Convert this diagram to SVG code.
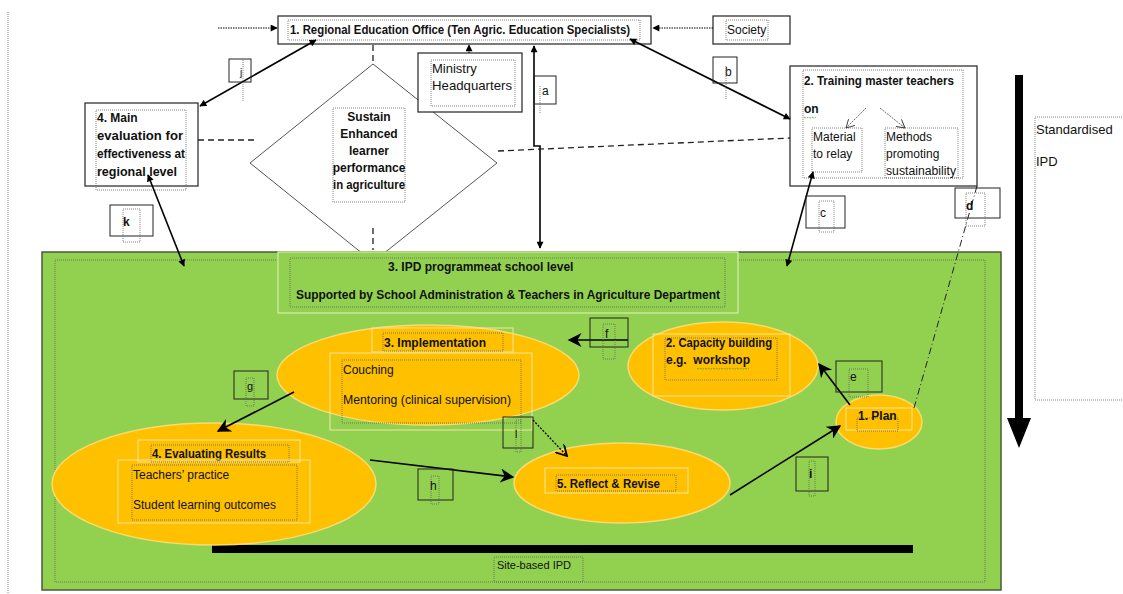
<svg xmlns="http://www.w3.org/2000/svg" width="1123" height="594" viewBox="0 0 1123 594">
<defs>
<marker id="ah" viewBox="0 0 10 10" refX="9" refY="5" markerWidth="10" markerHeight="9" markerUnits="userSpaceOnUse" orient="auto-start-reverse"><path d="M0,0 L10,5 L0,10 z" fill="#000"/></marker>
<marker id="ahs" viewBox="0 0 10 10" refX="9" refY="5" markerWidth="8" markerHeight="7" markerUnits="userSpaceOnUse" orient="auto-start-reverse"><path d="M0,0 L10,5 L0,10 z" fill="#000"/></marker>
<marker id="ahb" viewBox="0 0 10 10" refX="9" refY="5" markerWidth="16" markerHeight="14" markerUnits="userSpaceOnUse" orient="auto-start-reverse"><path d="M0,0 L10,5 L0,10 L3,5 z" fill="#000"/></marker>
<marker id="open" viewBox="0 0 10 10" refX="9" refY="5" markerWidth="9" markerHeight="9" markerUnits="userSpaceOnUse" orient="auto"><path d="M0,0 L9,5 L0,10" fill="none" stroke="#333" stroke-width="1"/></marker>
<marker id="opend" viewBox="0 0 10 10" refX="9" refY="5" markerWidth="12" markerHeight="12" markerUnits="userSpaceOnUse" orient="auto"><path d="M0,0 L9,5 L0,10" fill="none" stroke="#000" stroke-width="1.5"/></marker>
</defs>
<style>
text{font-family:"Liberation Sans",Arial,sans-serif;font-size:12px;fill:#111;white-space:pre}
.b{font-weight:bold}
.box{fill:#fff;stroke:#333;stroke-width:1.3}
.dot{fill:none;stroke:#666;stroke-width:0.8;stroke-dasharray:1 1}
.lbl{fill:none;stroke:#222;stroke-width:1}
.lt{fill:none;stroke:#f3e6a0;stroke-width:1}
.ell{fill:#ffc000;stroke:#f7dc70;stroke-width:1.5}
.con{fill:none;stroke:#000;stroke-width:1.6}
.dash{fill:none;stroke:#222;stroke-width:1.3;stroke-dasharray:6 4}
.sq{fill:none;stroke:#3a9a3a;stroke-width:0.8;stroke-dasharray:2 1}
</style>
<rect width="1123" height="594" fill="#fff"/>
<line x1="8" y1="12" x2="8" y2="594" class="dot"/>

<g id="sustain">
<polygon points="373,64 497,163 373,262 250,163" fill="#fff" stroke="#555" stroke-width="1"/>
<rect x="333" y="108" width="72" height="94" class="dot"/>
<text class="b" text-anchor="middle" x="369" y="121">Sustain</text>
<text class="b" text-anchor="middle" x="369" y="138">Enhanced</text>
<text class="b" text-anchor="middle" x="369" y="155">learner</text>
<text class="b" text-anchor="middle" x="369" y="172">performance</text>
<text class="b" text-anchor="middle" x="369" y="189" textLength="72" lengthAdjust="spacingAndGlyphs">in agriculture</text>
</g>

<g id="school">
<rect x="42" y="252" width="959" height="338" fill="#92d050" stroke="#4a5a3a" stroke-width="1.5"/>
<rect x="55" y="260" width="930" height="322" class="dot"/>
<rect x="278" y="252" width="460" height="61" fill="#92d050" stroke="#d6efb2" stroke-width="1.2"/>
<rect x="290" y="258" width="435" height="49" class="dot"/>
<text class="b" x="388" y="271">3. IPD programmeat school level</text>
<text class="b" x="296" y="299" textLength="424" lengthAdjust="spacingAndGlyphs">Supported by School Administration &amp; Teachers in Agriculture Department</text>
<rect x="212" y="545" width="701" height="8" fill="#000"/>
<rect x="494" y="557" width="89" height="25" class="dot"/>
<text x="497" y="569" font-size="11px" style="font-size:11px">Site-based IPD</text>
</g>

<g id="regional">
<rect x="278" y="16" width="373" height="28" class="box"/>
<rect x="288" y="20" width="352" height="20" class="dot"/>
<text class="b" x="290" y="34" textLength="340" lengthAdjust="spacingAndGlyphs">1. Regional Education Office (Ten Agric. Education Specialists)</text>
</g>

<g id="society">
<rect x="713" y="16" width="77" height="28" class="box"/>
<rect x="726" y="20" width="42" height="20" class="dot"/>
<text x="727" y="34">Society</text>
</g>

<g id="ministry">
<rect x="418" y="53" width="104" height="59" class="box"/>
<rect x="431" y="60" width="84" height="46" class="dot"/>
<text x="432" y="73" style="font-size:13px">Ministry</text>
<text x="432" y="90" style="font-size:13px" textLength="80" lengthAdjust="spacingAndGlyphs">Headquarters</text>
</g>

<g id="main-eval">
<rect x="85" y="103" width="113" height="83" class="box"/>
<rect x="96" y="110" width="90" height="80" class="dot"/>
<text class="b" x="97" y="122">4. Main</text>
<text class="b" x="97" y="140" textLength="86" lengthAdjust="spacingAndGlyphs">evaluation for</text>
<text class="b" x="97" y="158" textLength="88" lengthAdjust="spacingAndGlyphs">effectiveness at</text>
<text class="b" x="97" y="176" textLength="80" lengthAdjust="spacingAndGlyphs">regional level</text>
</g>

<g id="training">
<rect x="790" y="66" width="187" height="120" class="box"/>
<rect x="803" y="70" width="160" height="108" class="dot"/>
<text class="b" x="804" y="85" textLength="150" lengthAdjust="spacingAndGlyphs">2. Training master teachers</text>
<text class="b" x="804" y="113">on</text>
<path d="M804,117 q2,2 4,0 q2,2 4,0 q2,2 4,0" class="sq"/>
<rect x="812" y="128" width="50" height="44" class="dot"/>
<text x="813" y="141">Material</text>
<text x="813" y="158">to relay</text>
<rect x="885" y="128" width="73" height="50" class="dot"/>
<text x="886" y="141">Methods</text>
<text x="886" y="158">promoting</text>
<text x="886" y="175" textLength="70" lengthAdjust="spacingAndGlyphs">sustainability</text>
<line x1="866" y1="108" x2="846" y2="128" stroke="#444" stroke-width="0.8" stroke-dasharray="2 1" marker-end="url(#open)"/>
<line x1="880" y1="108" x2="905" y2="128" stroke="#444" stroke-width="0.8" stroke-dasharray="2 1" marker-end="url(#open)"/>
</g>

<g id="standardised">
<rect x="1035" y="117" width="95" height="283" class="dot"/>
<text x="1036" y="134" style="font-size:13px">Standardised</text>
<text x="1036" y="166" style="font-size:13px">IPD</text>
<line x1="1019" y1="75" x2="1019" y2="420" stroke="#000" stroke-width="8"/>
<polygon points="1007,418 1031,418 1019,448" fill="#000"/>
</g>

<g id="implementation">
<ellipse cx="428" cy="375" rx="151" ry="50" class="ell"/>
<rect x="372" y="328" width="141" height="24" class="lt"/>
<rect x="383" y="333" width="120" height="18" class="dot"/>
<text class="b" x="384" y="347">3. Implementation</text>
<rect x="330" y="353" width="202" height="77" class="lt"/>
<rect x="342" y="360" width="179" height="63" class="dot"/>
<text x="343" y="374">Couching</text>
<text x="343" y="404" textLength="168" lengthAdjust="spacingAndGlyphs">Mentoring (clinical supervision)</text>
</g>

<g id="capacity">
<ellipse cx="723" cy="366" rx="95" ry="44" class="ell"/>
<rect x="653" y="334" width="137" height="62" class="lt"/>
<rect x="665" y="338" width="112" height="42" class="dot"/>
<text class="b" x="666" y="347" textLength="106" lengthAdjust="spacingAndGlyphs">2. Capacity building</text>
<text class="b" x="666" y="364">e.g.  workshop</text>
<path d="M697,368 q2,2 4,0 q2,2 4,0 q2,2 4,0 q2,2 4,0 q2,2 4,0 q2,2 4,0 q2,2 4,0 q2,2 4,0 q2,2 4,0 q2,2 4,0 q2,2 4,0 q2,2 4,0 q2,2 4,0" class="sq"/>
</g>

<g id="plan">
<ellipse cx="879" cy="422" rx="43" ry="27" class="ell"/>
<rect x="846" y="408" width="66" height="22" class="lt"/>
<rect x="857" y="418" width="41" height="13" class="dot"/>
<text class="b" x="858" y="420">1. Plan</text>
</g>

<g id="evaluating">
<ellipse cx="214" cy="484" rx="162" ry="61" class="ell"/>
<rect x="138" y="440" width="162" height="22" class="lt"/>
<rect x="151" y="445" width="138" height="17" class="dot"/>
<text class="b" x="152" y="458" textLength="114" lengthAdjust="spacingAndGlyphs">4. Evaluating Results</text>
<rect x="118" y="460" width="192" height="63" class="lt"/>
<rect x="132" y="465" width="165" height="55" class="dot"/>
<text x="133" y="479">Teachers’ practice</text>
<text x="133" y="509" textLength="143" lengthAdjust="spacingAndGlyphs">Student learning outcomes</text>
</g>

<g id="reflect">
<ellipse cx="622" cy="483" rx="108" ry="40" class="ell"/>
<rect x="545" y="468" width="143" height="25" class="lt"/>
<rect x="556" y="475" width="120" height="16" class="dot"/>
<text class="b" x="557" y="488" textLength="103" lengthAdjust="spacingAndGlyphs">5. Reflect &amp; Revise</text>
</g>

<g id="connectors">
<line x1="218" y1="28" x2="277" y2="28" stroke="#000" stroke-width="1" stroke-dasharray="1.5 1" marker-end="url(#ahs)"/>
<line x1="713" y1="28" x2="653" y2="28" stroke="#000" stroke-width="1" stroke-dasharray="1.5 1" marker-end="url(#ahs)"/>
<line x1="469" y1="53" x2="469" y2="45" stroke="#000" stroke-width="1" stroke-dasharray="1.5 1" marker-end="url(#ahs)"/>
<path d="M534,46 L534,146 L540,146 L540,248" class="con" stroke-width="1.3" marker-start="url(#ahs)" marker-end="url(#ahs)"/>
<line x1="373" y1="45" x2="373" y2="64" class="dash" stroke-dasharray="5 3"/>
<line x1="373" y1="228" x2="373" y2="250" class="dash" stroke-dasharray="5 3"/>
<line x1="198" y1="140" x2="254" y2="140" class="dash"/>
<line x1="498" y1="151" x2="790" y2="138" class="dash"/>
<line x1="316" y1="40" x2="200" y2="106" class="con" marker-start="url(#ahs)" marker-end="url(#ahs)"/>
<line x1="630" y1="39" x2="790" y2="119" class="con" marker-start="url(#ahs)" marker-end="url(#ahs)"/>
<line x1="148" y1="175" x2="184" y2="266" class="con" marker-start="url(#ahs)" marker-end="url(#ahs)"/>
<line x1="813" y1="172" x2="787" y2="266" class="con" marker-start="url(#ahs)" marker-end="url(#ahs)"/>
<line x1="977" y1="186" x2="914" y2="408" stroke="#222" stroke-width="1" stroke-dasharray="7 3 1 3"/>
<line x1="628" y1="340" x2="569" y2="340" class="con" marker-end="url(#ahb)"/>
<line x1="850" y1="405" x2="819" y2="364" class="con" marker-end="url(#ahb)"/>
<line x1="294" y1="392" x2="218" y2="431" class="con" marker-end="url(#ahb)"/>
<line x1="370" y1="460" x2="513" y2="477" class="con" marker-end="url(#ahb)"/>
<line x1="533" y1="420" x2="567" y2="456" stroke="#000" stroke-width="1.3" stroke-dasharray="2 1.5" marker-end="url(#opend)"/>
<line x1="730" y1="495" x2="840" y2="426" class="con" marker-end="url(#ahb)"/>
</g>

<g id="labels">
<rect x="229" y="59" width="22" height="23" class="lbl"/>
<line x1="243" y1="60" x2="243" y2="102" class="dot"/>
<text x="240" y="76" font-size="10px" style="font-size:10px" fill="#555">j</text>
<rect x="534" y="76" width="22" height="28" class="lbl"/>
<text x="542" y="95">a</text>
<line x1="540" y1="86" x2="540" y2="113" class="dot"/>
<rect x="713" y="57" width="24" height="26" class="lbl"/>
<text x="725" y="76">b</text>
<line x1="726" y1="66" x2="726" y2="100" class="dot"/>
<rect x="110" y="205" width="43" height="31" class="lbl"/>
<rect x="123" y="209" width="17" height="33" class="dot"/>
<text x="123" y="226" class="b">k</text>
<rect x="806" y="196" width="39" height="32" class="lbl"/>
<rect x="819" y="201" width="15" height="31" class="dot"/>
<text x="820" y="217">c</text>
<rect x="955" y="188" width="45" height="30" class="lbl"/>
<rect x="966" y="193" width="19" height="33" class="dot"/>
<text x="966" y="210" class="b">d</text>
<rect x="590" y="318" width="38" height="29" class="lbl"/>
<rect x="603" y="324" width="12" height="35" class="dot"/>
<text x="605" y="338">f</text>
<rect x="836" y="361" width="46" height="31" class="lbl"/>
<rect x="849" y="369" width="19" height="28" class="dot"/>
<text x="850" y="381" fill="#556">e</text>
<rect x="234" y="371" width="34" height="28" class="lbl"/>
<rect x="246" y="378" width="8" height="28" class="dot"/>
<text x="247" y="390" font-size="11px" style="font-size:11px" fill="#667">g</text>
<rect x="418" y="469" width="35" height="31" class="lbl"/>
<rect x="431" y="476" width="8" height="28" class="dot"/>
<text x="430" y="490">h</text>
<rect x="503" y="417" width="30" height="31" class="lbl"/>
<rect x="516" y="420" width="5" height="32" class="dot"/>
<text x="515" y="438" font-size="10px" style="font-size:10px" fill="#666">l</text>
<rect x="796" y="457" width="32" height="34" class="lbl"/>
<rect x="809" y="461" width="6" height="35" class="dot"/>
<text x="809" y="478" class="b" fill="#554">i</text>
</g>
</svg>
